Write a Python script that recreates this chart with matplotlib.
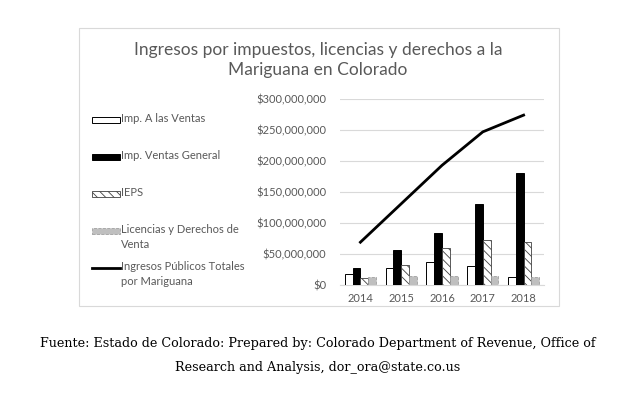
import matplotlib.pyplot as plt
import matplotlib.patches as patches
from matplotlib.lines import Line2D
import numpy as np
from matplotlib.ticker import FuncFormatter

years = ["2014", "2015", "2016", "2017", "2018"]
imp_ventas = [18e6, 27e6, 37e6, 31e6, 13e6]
imp_general = [27e6, 56e6, 84e6, 131e6, 181e6]
ieps = [11e6, 33e6, 60e6, 72e6, 69e6]
licencias = [13e6, 14e6, 14e6, 14e6, 13e6]
total = [69e6, 131e6, 193e6, 247e6, 274e6]

labels = ["Imp. A las Ventas", "Imp. Ventas General", "IEPS",
          "Licencias y Derechos de\nVenta", "Ingresos Públicos Totales\npor Mariguana"]

grey = "#595959"
plt.rcParams['hatch.linewidth'] = 0.6
plt.rcParams['font.family'] = ['Lato', 'DejaVu Sans']

fig = plt.figure(figsize=(6.17, 4.01), dpi=100)
W, H = 617, 401

# chart frame
fig.patches.append(patches.Rectangle((79 / W, 1 - 306 / H), 480 / W, 278 / H,
                                     transform=fig.transFigure, fill=False,
                                     edgecolor="#d9d9d9", lw=0.8))

ax = fig.add_axes([340 / W, 1 - 285 / H, 204 / W, 186 / H])
x = np.arange(len(years))
w = 0.19
offs = [-1.5 * w, -0.5 * w, 0.5 * w, 1.5 * w]
styles = [
    dict(facecolor="white", edgecolor="black", lw=0.7),
    dict(facecolor="black", edgecolor="black", lw=0.7),
    dict(facecolor="white", edgecolor="#404040", lw=0.6, hatch="\\\\\\\\"),
    dict(facecolor="#bfbfbf", edgecolor="#a0a0a0", lw=0.6, ls="--"),
]
for vals, off, st in zip([imp_ventas, imp_general, ieps, licencias], offs, styles):
    ax.bar(x + off, vals, w, zorder=3, **st)
ax.plot(x, total, color="black", lw=2.0, zorder=4)

ax.set_ylim(0, 300e6)
ax.set_xlim(-0.5, len(years) - 0.5)
ax.set_yticks(np.arange(0, 300e6 + 1, 50e6))
ax.yaxis.set_major_formatter(FuncFormatter(lambda v, p: "$0" if v == 0 else f"${v:,.0f}"))
ax.set_xticks(x)
ax.set_xticklabels(years)
ax.tick_params(length=0, labelsize=8, colors=grey)
ax.tick_params(axis="y", pad=10)
ax.tick_params(axis="x", pad=6)
ax.grid(axis="y", color="#d9d9d9", lw=0.8, zorder=0)
for s in ["top", "right", "left"]:
    ax.spines[s].set_visible(False)
ax.spines["bottom"].set_color("#d9d9d9")

fig.text(318 / W, 1 - 60 / H, "Ingresos por impuestos, licencias y derechos a la\nMariguana en Colorado",
         ha="center", va="center", fontsize=12.5, color=grey, linespacing=1.3)

# legend drawn by hand: one entry every 37 px, handle beside first line
for i, lab in enumerate(labels):
    yc = 120 + 37 * i
    if i < 4:
        fig.patches.append(patches.Rectangle((92 / W, 1 - (yc + 3) / H), 28 / W, 6 / H,
                                             transform=fig.transFigure, **styles[i]))
    else:
        fig.lines.append(Line2D([92 / W, 120 / W], [1 - yc / H, 1 - yc / H],
                                transform=fig.transFigure, color="black", lw=2.0))
    fig.text(121 / W, 1 - (yc - 7) / H, lab, ha="left", va="top", fontsize=8,
             color=grey, linespacing=1.45)

fig.text(318 / W, 1 - 343 / H,
         "Fuente: Estado de Colorado: Prepared by: Colorado Department of Revenue, Office of",
         ha="center", va="center", fontsize=9.2, family="DejaVu Serif")
fig.text(318 / W, 1 - 368 / H, "Research and Analysis, dor_ora@state.co.us",
         ha="center", va="center", fontsize=9.2, family="DejaVu Serif")

fig.savefig("out.png", dpi=100)
